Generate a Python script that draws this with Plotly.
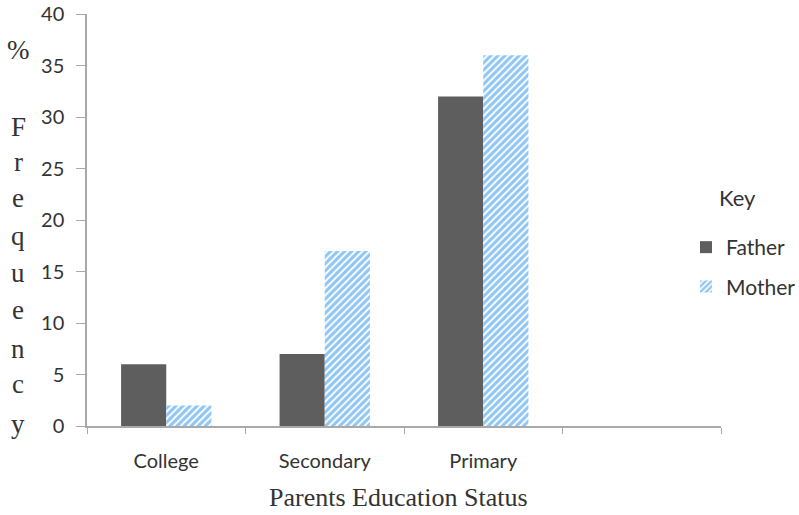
import plotly.graph_objects as go

# Education level categories (the last slot is left empty on the axis)
categories = ["College", "Secondary", "Primary", " "]
father_pct = [6, 7, 32, None]
mother_pct = [2, 17, 36, None]
y_ticks = [0, 5, 10, 15, 20, 25, 30, 35, 40]

W, H = 799, 515
L, R, T, B = 87, 78, 14, 89
PW, PH = W - L - R, H - T - B


def px_x(px):
    return (px - L) / PW


def px_y(py):
    return (H - B - py) / PH


fig = go.Figure()
fig.add_trace(go.Bar(
    name="Father", x=categories, y=father_pct,
    marker=dict(color="#5e5e5e", line=dict(width=0)),
    legendgroup="f",
))
fig.add_trace(go.Bar(
    name="Mother", x=categories, y=mother_pct,
    marker=dict(
        color="#ffffff",
        line=dict(width=0),
        pattern=dict(shape="/", fgcolor="#1f8ee9", bgcolor="#ffffff",
                     size=5, solidity=0.62),
    ),
    legendgroup="m",
))

axis_col = "#a9a9a9"
text_col = "#333333"
fig.update_layout(
    width=W, height=H,
    margin=dict(l=L, r=R, t=T, b=B, autoexpand=False),
    paper_bgcolor="white", plot_bgcolor="white",
    barmode="group", bargap=0.43, bargroupgap=0,
    font=dict(family="Lato", color=text_col),
    xaxis=dict(
        type="category", categoryorder="array", categoryarray=categories,
        range=[-0.5, 3.5],
        showline=True, linecolor=axis_col, linewidth=1.5,
        ticks="outside", tickson="boundaries", ticklen=6,
        tickcolor=axis_col, tickwidth=1.2,
        ticklabelstandoff=16,
        tickfont=dict(family="Lato", size=20, color=text_col),
        showgrid=False, zeroline=False,
    ),
    yaxis=dict(
        range=[0, 40], tickvals=y_ticks,
        showline=True, linecolor=axis_col, linewidth=1.5,
        ticks="outside", ticklen=9, tickcolor=axis_col, tickwidth=1.2,
        ticklabelstandoff=8,
        tickfont=dict(family="Lato", size=20, color=text_col),
        showgrid=False, zeroline=False,
    ),
    legend=dict(
        font=dict(family="Lato", size=21, color=text_col),
        x=px_x(686), xanchor="left",
        y=px_y(227), yanchor="top",
        tracegroupgap=9, bgcolor="rgba(0,0,0,0)",
    ),
)

# Legend heading
fig.add_annotation(
    text="Key", xref="paper", yref="paper",
    x=px_x(737), y=px_y(197), xanchor="center", yanchor="middle",
    showarrow=False, font=dict(family="Lato", size=22, color=text_col),
)

# Vertical axis title, one letter per line
serif = dict(family="Liberation Serif", size=27, color=text_col)
letters = [("%", 50), ("F", 127), ("r", 162), ("e", 198), ("q", 236),
           ("u", 273), ("e", 310), ("n", 349), ("c", 384), ("y", 424)]
for ch, py in letters:
    fig.add_annotation(
        text=ch, xref="paper", yref="paper",
        x=px_x(18), y=px_y(py),
        xanchor="center", yanchor="middle", showarrow=False, font=serif,
    )

# Horizontal axis title
fig.add_annotation(
    text="Parents Education Status", xref="paper", yref="paper",
    x=px_x(398), y=px_y(497),
    xanchor="center", yanchor="middle", showarrow=False,
    font=dict(family="Liberation Serif", size=26, color=text_col),
)

fig.write_html("out.html")
